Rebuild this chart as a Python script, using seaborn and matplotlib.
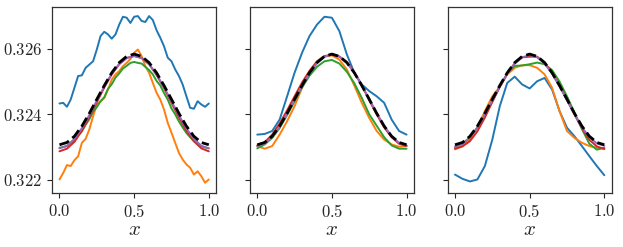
import numpy as np
import pandas as pd
import seaborn as sns
import matplotlib.pyplot as plt
from matplotlib.ticker import FormatStrFormatter

sns.set_theme(style="ticks")
plt.rcParams["font.family"] = "serif"
plt.rcParams["font.serif"] = ["cmr10", "DejaVu Serif"]
plt.rcParams["mathtext.fontset"] = "cm"

# grids
x21 = np.linspace(0, 1, 21)
x41 = np.linspace(0, 1, 41)

# reference solution (black dashed), same in all panels
truth = [0.32307, 0.32314, 0.32333, 0.32364, 0.32403, 0.32446, 0.32488, 0.32527, 0.32558, 0.32577, 0.32584,
         0.32577, 0.32558, 0.32527, 0.32488, 0.32446, 0.32403, 0.32364, 0.32333, 0.32314, 0.32307]

# panel 1 (wiggly ones on the fine grid)
p1_blue = [0.32433, 0.32435, 0.32423, 0.32445, 0.32481, 0.32517, 0.32519, 0.32542, 0.32552, 0.32562, 0.32598,
           0.32639, 0.32652, 0.32644, 0.32631, 0.32644, 0.32674, 0.32698, 0.32695, 0.32679, 0.32698,
           0.32700, 0.32685, 0.32682, 0.32700, 0.32688, 0.32657, 0.32634, 0.32608, 0.32573, 0.32562,
           0.32537, 0.32517, 0.32491, 0.32455, 0.32420, 0.32417, 0.32440, 0.32430, 0.32423, 0.32433]
p1_orange = [0.32201, 0.32221, 0.32245, 0.32242, 0.32260, 0.32272, 0.32313, 0.32325, 0.32354, 0.32394, 0.32430,
             0.32440, 0.32450, 0.32476, 0.32506, 0.32522, 0.32532, 0.32547, 0.32557, 0.32569, 0.32588,
             0.32598, 0.32578, 0.32547, 0.32527, 0.32496, 0.32466, 0.32445, 0.32415, 0.32374, 0.32344,
             0.32313, 0.32282, 0.32262, 0.32247, 0.32237, 0.32216, 0.32226, 0.32211, 0.32191, 0.32201]
p1_green = [0.32298, 0.32300, 0.32303, 0.32312, 0.32318, 0.32335, 0.32348, 0.32368, 0.32385, 0.32408, 0.32422,
            0.32440, 0.32452, 0.32478, 0.32492, 0.32512, 0.32525, 0.32540, 0.32548, 0.32557, 0.32560,
            0.32557, 0.32555, 0.32545, 0.32535, 0.32522, 0.32502, 0.32488, 0.32465, 0.32445, 0.32418,
            0.32400, 0.32378, 0.32360, 0.32343, 0.32330, 0.32318, 0.32310, 0.32302, 0.32299, 0.32296]
p1_red = [0.32287, 0.32295, 0.32316, 0.32350, 0.32392, 0.32437, 0.32482, 0.32522, 0.32553, 0.32572, 0.32578,
          0.32572, 0.32553, 0.32520, 0.32480, 0.32435, 0.32390, 0.32350, 0.32318, 0.32296, 0.32287]
p1_purple = [0.32296, 0.32304, 0.32325, 0.32358, 0.32398, 0.32442, 0.32485, 0.32524, 0.32554, 0.32572, 0.32578,
             0.32572, 0.32553, 0.32522, 0.32483, 0.32440, 0.32397, 0.32357, 0.32325, 0.32304, 0.32296]

# panel 2
p2_blue = [0.32338, 0.32340, 0.32349, 0.32384, 0.32455, 0.32527, 0.32588, 0.32639, 0.32674, 0.32698, 0.32695,
           0.32654, 0.32583, 0.32527, 0.32491, 0.32471, 0.32455, 0.32435, 0.32384, 0.32349, 0.32338]
p2_orange = [0.32303, 0.32295, 0.32303, 0.32338, 0.32379, 0.32425, 0.32481, 0.32527, 0.32557, 0.32576, 0.32580,
             0.32567, 0.32537, 0.32488, 0.32435, 0.32389, 0.32349, 0.32323, 0.32308, 0.32301, 0.32303]
p2_green = [0.32296, 0.32308, 0.32328, 0.32358, 0.32398, 0.32440, 0.32482, 0.32518, 0.32545, 0.32562, 0.32566,
            0.32555, 0.32530, 0.32495, 0.32450, 0.32400, 0.32365, 0.32330, 0.32305, 0.32295, 0.32295]
p2_red = [0.32305, 0.32315, 0.32338, 0.32372, 0.32412, 0.32455, 0.32497, 0.32533, 0.32562, 0.32578, 0.32582,
          0.32576, 0.32560, 0.32528, 0.32488, 0.32443, 0.32400, 0.32360, 0.32330, 0.32310, 0.32303]
p2_purple = [0.32303, 0.32311, 0.32330, 0.32362, 0.32401, 0.32444, 0.32486, 0.32525, 0.32556, 0.32576, 0.32583,
             0.32577, 0.32558, 0.32527, 0.32489, 0.32447, 0.32404, 0.32365, 0.32333, 0.32313, 0.32305]

# panel 3
p3_blue = [0.32216, 0.32203, 0.32195, 0.32201, 0.32242, 0.32323, 0.32425, 0.32496, 0.32515, 0.32491, 0.32479,
           0.32501, 0.32511, 0.32476, 0.32410, 0.32359, 0.32333, 0.32303, 0.32272, 0.32242, 0.32214]
p3_orange = [0.32293, 0.32303, 0.32323, 0.32359, 0.32410, 0.32455, 0.32484, 0.32522, 0.32542, 0.32550, 0.32550,
             0.32542, 0.32522, 0.32481, 0.32410, 0.32349, 0.32328, 0.32313, 0.32303, 0.32298, 0.32295]
p3_green = [0.32300, 0.32310, 0.32330, 0.32360, 0.32398, 0.32440, 0.32485, 0.32525, 0.32548, 0.32549, 0.32553,
            0.32558, 0.32553, 0.32535, 0.32500, 0.32455, 0.32405, 0.32355, 0.32310, 0.32292, 0.32298]
p3_red = [0.32295, 0.32302, 0.32318, 0.32348, 0.32390, 0.32438, 0.32484, 0.32524, 0.32556, 0.32574, 0.32576,
          0.32576, 0.32558, 0.32527, 0.32488, 0.32445, 0.32400, 0.32358, 0.32322, 0.32302, 0.32294]
p3_purple = [0.32302, 0.32310, 0.32329, 0.32360, 0.32400, 0.32443, 0.32485, 0.32524, 0.32555, 0.32574, 0.32581,
             0.32574, 0.32555, 0.32524, 0.32485, 0.32443, 0.32400, 0.32361, 0.32330, 0.32311, 0.32304]

colors = {"blue": "#1f77b4", "orange": "#ff7f0e", "green": "#2ca02c", "red": "#d62728", "purple": "#9467bd"}

panels = [
    {"blue": (x41, p1_blue), "orange": (x41, p1_orange), "green": (x41, p1_green),
     "red": (x21, p1_red), "purple": (x21, p1_purple)},
    {"blue": (x21, p2_blue), "orange": (x21, p2_orange), "green": (x21, p2_green),
     "red": (x21, p2_red), "purple": (x21, p2_purple)},
    {"blue": (x21, p3_blue), "orange": (x21, p3_orange), "green": (x21, p3_green),
     "red": (x21, p3_red), "purple": (x21, p3_purple)},
]

fig, axes = plt.subplots(1, 3, figsize=(6.23, 2.47), dpi=100, sharey=True)
fig.subplots_adjust(left=0.0835, right=0.982, bottom=0.219, top=0.972, wspace=0.204)

for ax, series in zip(axes, panels):
    df = pd.concat(
        [pd.DataFrame({"x": xs, "u": ys, "model": name}) for name, (xs, ys) in series.items()],
        ignore_index=True,
    )
    sns.lineplot(data=df, x="x", y="u", hue="model", palette=colors, linewidth=1.4,
                 legend=False, ax=ax, estimator=None, sort=True)
    sns.lineplot(x=x21, y=truth, color="black", linestyle="--", linewidth=2.0, ax=ax)
    ax.set_xlim(-0.05, 1.05)
    ax.set_ylim(0.3216, 0.32728)
    ax.set_xticks([0.0, 0.5, 1.0])
    ax.set_yticks([0.322, 0.324, 0.326])
    ax.xaxis.set_major_formatter(FormatStrFormatter("$%.1f$"))
    ax.yaxis.set_major_formatter(FormatStrFormatter("$%.3f$"))
    ax.tick_params(labelsize=12, length=3.5, width=0.8, direction="out")
    ax.set_xlabel("$x$", fontsize=15, labelpad=1)
    ax.set_ylabel("")
    for sp in ax.spines.values():
        sp.set_color("#333333")
        sp.set_linewidth(0.9)

fig.savefig("out.png", dpi=100)
